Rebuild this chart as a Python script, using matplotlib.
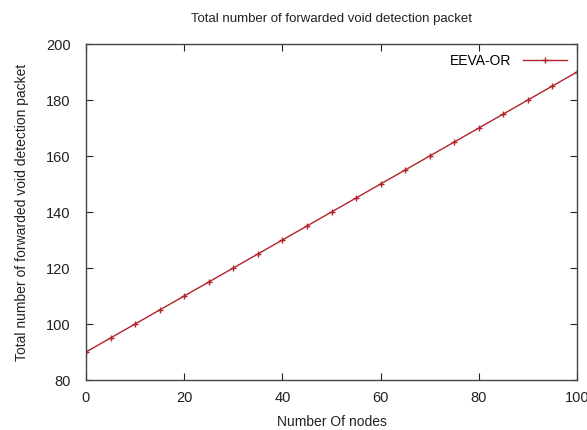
import matplotlib
matplotlib.use("Agg")
import matplotlib.pyplot as plt

nodes = [0, 5, 10, 15, 20, 25, 30, 35, 40, 45, 50, 55, 60, 65, 70, 75, 80, 85, 90, 95, 100]
packets = [90, 95, 100, 105, 110, 115, 120, 125, 130, 135, 140, 145, 150, 155, 160, 165, 170, 175, 180, 185, 190]

plt.rcParams['font.family'] = ['Liberation Sans', 'DejaVu Sans']

fig = plt.figure(figsize=(5.87, 4.30), dpi=100)
ax = fig.add_axes([86/587, 1-380/430, (577-86)/587, (380-44)/430])

ax.plot(nodes, packets, color='#b2222a', lw=1.0, marker='+', ms=5, mew=1.0, label='EEVA-OR')
ax.set_xlim(0, 100)
ax.set_ylim(80, 200)
ax.set_xticks([0, 20, 40, 60, 80, 100])
ax.set_yticks([80, 100, 120, 140, 160, 180, 200])
ax.tick_params(direction='in', top=True, right=True, length=5, labelsize=10.5, colors='#222222')
ax.tick_params(axis='y', pad=11)
ax.tick_params(axis='x', pad=8)
for s in ax.spines.values():
    s.set_color('#444444')
    s.set_linewidth(1.0)

ax.set_title('Total number of forwarded void detection packet', fontsize=9.5, pad=16, color='#222222')
ax.set_xlabel('Number Of nodes', fontsize=10, color='#222222', labelpad=7)
ax.set_ylabel('Total number of forwarded void detection packet', fontsize=10, color='#222222', labelpad=12)

leg = ax.legend(loc='upper right', frameon=False, fontsize=10, handlelength=3.2, markerfirst=False,
                borderaxespad=0.3, handletextpad=0.8)

fig.savefig('out.png', dpi=100)
